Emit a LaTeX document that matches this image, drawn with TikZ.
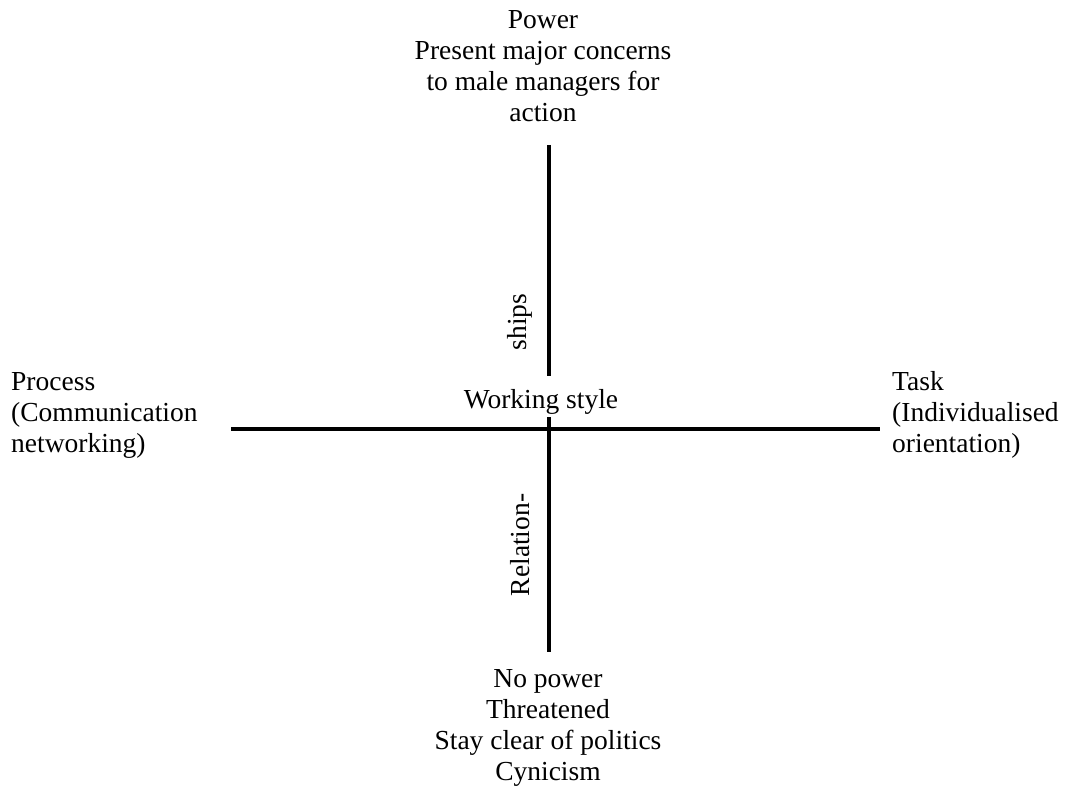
\documentclass[tikz,border=0pt]{standalone}
\usepackage{fontspec}
\setmainfont{Liberation Serif}
\begin{document}
\begin{tikzpicture}[x=1pt,y=-1pt,
  lbl/.style={inner sep=0pt,font=\fontsize{27.5}{31}\selectfont},
  axis/.style={line width=3.2pt}]
\useasboundingbox (0,0) rectangle (1071,786);
% pole labels
\node[lbl,align=center] (power) at (543,66) {Power\\Present major concerns\\to male managers for\\action};
\node[lbl,align=center] (nopower) at (548,728) {No power\\Threatened\\Stay clear of politics\\Cynicism};
\node[lbl,align=left,anchor=west] (process) at (11,415) {Process\\(Communication\\networking)};
\node[lbl,align=left,anchor=west] (task) at (892,415) {Task\\(Individualised\\orientation)};
\node[lbl] (style) at (541,402) {Working style};
\node[lbl,rotate=90] (ships) at (520,322) {ships};
\node[lbl,rotate=90] (relation) at (520,545) {Relation-};
% axis end points
\coordinate (vtop) at (549,145);
\coordinate (vmid) at (549,376);
\coordinate (vlow) at (549,417);
\coordinate (vbot) at (549,652);
\coordinate (hleft) at (231,429);
\coordinate (hright) at (880,429);
\draw[axis] (vtop) -- (vmid);
\draw[axis] (vlow) -- (vbot);
\draw[axis] (hleft) -- (hright);
\end{tikzpicture}
\end{document}
